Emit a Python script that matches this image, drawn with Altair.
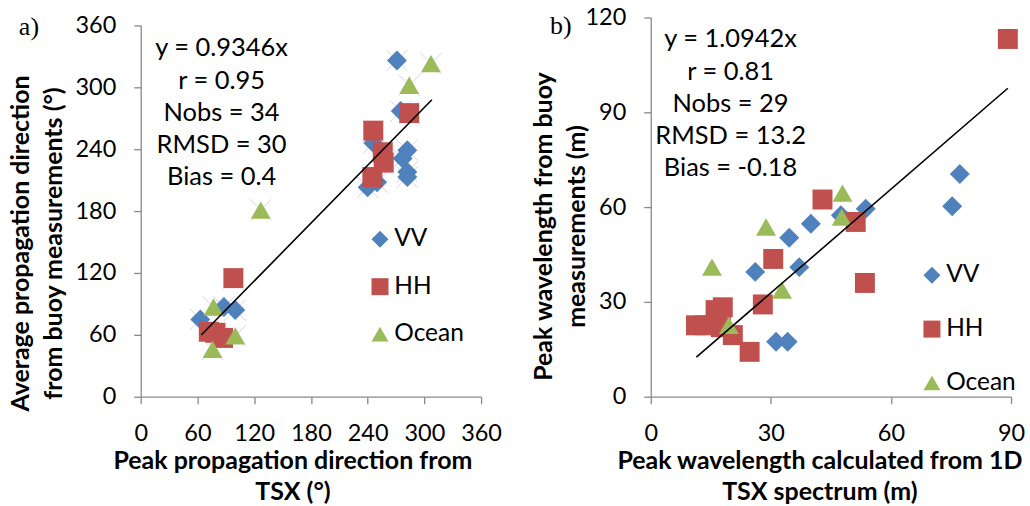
import altair as alt
import pandas as pd

series = ["VV", "HH", "Ocean"]
colors = ["#4F81BD", "#C0504D", "#9BBB59"]
shapes = ["diamond", "square", "triangle-up"]

# Panel a) propagation direction (degrees)
a_vv_x = [271, 275, 246, 282, 277, 282, 282, 240, 250, 63, 88, 100]
a_vv_y = [326, 277, 246, 239, 231, 218, 213, 203, 208, 75, 87, 84]
a_hh_x = [284, 246, 256, 257, 245, 98, 72, 79, 87]
a_hh_y = [275, 258, 237, 227, 213, 115, 63, 62, 57]
a_oc_x = [307, 284, 127, 77, 100, 76]
a_oc_y = [323, 302, 181, 87, 59, 46]
a_fit_x = [64, 308]
a_fit_y = [59.8, 287.9]
a_ticks = [0, 60, 120, 180, 240, 300, 360]
a_stats = ["y = 0.9346x", "r = 0.95", "Nobs = 34", "RMSD = 30", "Bias = 0.4"]

# Panel b) peak wavelength (m)
b_vv_x = [77.2, 75.3, 53.7, 47.5, 40.0, 34.6, 37.1, 26.1, 31.3, 34.2]
b_vv_y = [70.5, 60.3, 59.5, 57.4, 54.7, 50.3, 41.0, 39.5, 17.4, 17.4]
b_hh_x = [89.2, 42.9, 51.2, 53.5, 30.6, 28.0, 11.3, 13.5, 16.2, 18.0, 16.3, 17.5, 20.5, 24.7]
b_hh_y = [113.2, 62.4, 55.3, 36.0, 43.6, 29.2, 22.6, 22.6, 27.4, 28.3, 24.8, 22.0, 19.5, 14.2]
b_oc_x = [47.9, 47.7, 28.8, 15.3, 32.8, 19.5]
b_oc_y = [64.4, 56.8, 53.7, 41.0, 33.7, 22.6]
b_fit_x = [11.4, 89.2]
b_fit_y = [12.5, 97.6]
b_x_ticks = [0, 30, 60, 90]
b_y_ticks = [0, 30, 60, 90, 120]
b_stats = ["y = 1.0942x", "r = 0.81", "Nobs = 29", "RMSD = 13.2", "Bias = -0.18"]

FONT = "Lato"
AXIS_GRAY = "#898989"


def points(groups):
    rows = []
    for name, xs, ys in groups:
        for x, y in zip(xs, ys):
            rows.append({"x": x, "y": y, "series": name})
    return pd.DataFrame(rows)


df_a = points([("VV", a_vv_x, a_vv_y), ("HH", a_hh_x, a_hh_y), ("Ocean", a_oc_x, a_oc_y)])
df_b = points([("VV", b_vv_x, b_vv_y), ("HH", b_hh_x, b_hh_y), ("Ocean", b_oc_x, b_oc_y)])
fit_a = pd.DataFrame({"x": a_fit_x, "y": a_fit_y})
fit_b = pd.DataFrame({"x": b_fit_x, "y": b_fit_y})
one = pd.DataFrame({"k": [0]})


def legend(lx, ly, row_pad):
    return alt.Legend(title=None, orient="none", legendX=lx, legendY=ly,
                      labelFont=FONT, labelFontSize=24.5, labelColor="black",
                      symbolSize=290, symbolStrokeWidth=0, symbolOpacity=1,
                      rowPadding=row_pad, padding=0, labelOffset=2)


def panel(df, fit, xscale, yscale, xaxis, yaxis, leg, stats, stats_xy, tag, tag_xy, w, h, crosses):
    x_enc = alt.X("x:Q", scale=xscale, axis=xaxis)
    y_enc = alt.Y("y:Q", scale=yscale, axis=yaxis)
    layers = []
    if crosses:
        layers.append(alt.Chart(df).mark_point(
            shape="M-1,-1L1,1M-1,1L1,-1", filled=False, size=460,
            stroke="#d9d2ea", strokeWidth=1, opacity=1).encode(x=x_enc, y=y_enc))
    layers.append(alt.Chart(df).mark_point(filled=True, size=400, opacity=1).encode(
        x=x_enc, y=y_enc,
        color=alt.Color("series:N", scale=alt.Scale(domain=series, range=colors), legend=leg),
        shape=alt.Shape("series:N", scale=alt.Scale(domain=series, range=shapes), legend=leg),
    ))
    layers.append(alt.Chart(fit).mark_line(color="black", strokeWidth=1.6).encode(x="x:Q", y="y:Q"))
    layers.append(alt.Chart(one).mark_text(
        text=stats, font=FONT, fontSize=25.5, lineHeight=32.3, align="center",
        baseline="middle", color="black").encode(x=alt.value(stats_xy[0]), y=alt.value(stats_xy[1])))
    layers.append(alt.Chart(one).mark_text(
        text=tag, font="Liberation Serif", fontSize=26, align="center",
        baseline="middle", color="black").encode(x=alt.value(tag_xy[0]), y=alt.value(tag_xy[1])))
    return alt.layer(*layers).properties(width=w, height=h)


def axis_x(values, title, tx):
    return alt.Axis(values=values, title=title, titleX=tx, titleY=52, titleAlign="center",
                    titleBaseline="top", titleLineHeight=31, labelPadding=18,
                    tickSize=7, labelFlush=False, labelOverlap=False)


def axis_y(values, title, tx, ty):
    return alt.Axis(values=values, title=title, titleX=tx, titleY=ty, titleAngle=-90,
                    titleAlign="center", titleBaseline="bottom", titleLineHeight=33,
                    labelPadding=18, tickSize=7, labelFlush=False, labelOverlap=False)


chart_a = panel(
    df_a, fit_a,
    alt.Scale(domain=[0, 360], nice=False, zero=False),
    alt.Scale(domain=[0, 360], range=[380, 8], nice=False, zero=False),
    axis_x(a_ticks, ["Peak propagation direction from", "TSX (°)"], 152),
    axis_y(a_ticks, ["Average propagation direction", "from buoy measurements (°)"], -107, 226),
    legend(227.5, 210, 22.5), a_stats, (81, 31), "a)", (-112, 10), 341, 380, True)

chart_b = panel(
    df_b, fit_b,
    alt.Scale(domain=[0, 90], nice=False, zero=False),
    alt.Scale(domain=[0, 120], nice=False, zero=False),
    axis_x(b_x_ticks, ["Peak wavelength calculated from 1D", "TSX spectrum (m)"], 169),
    axis_y(b_y_ticks, ["Peak wavelength from buoy", "measurements (m)"], -94, 209),
    legend(269.5, 246, 29), b_stats, (80, 22), "b)", (-90, 9), 361, 380, False)

chart = alt.hconcat(chart_a, chart_b, spacing=170, bounds="flush").resolve_legend(
    color="independent", shape="independent"
).properties(
    padding={"left": 8, "top": 5, "right": 5, "bottom": 5}, background="white"
).configure_axis(
    labelFont=FONT, labelFontSize=23.5, labelColor="black",
    titleFont=FONT, titleFontSize=25, titleFontWeight="bold", titleColor="black",
    domainColor=AXIS_GRAY, tickColor=AXIS_GRAY, domainWidth=1.3, tickWidth=1.3, grid=False,
).configure_view(stroke=None)

chart.save("out.html", embed_options={"renderer": "svg", "actions": False})
